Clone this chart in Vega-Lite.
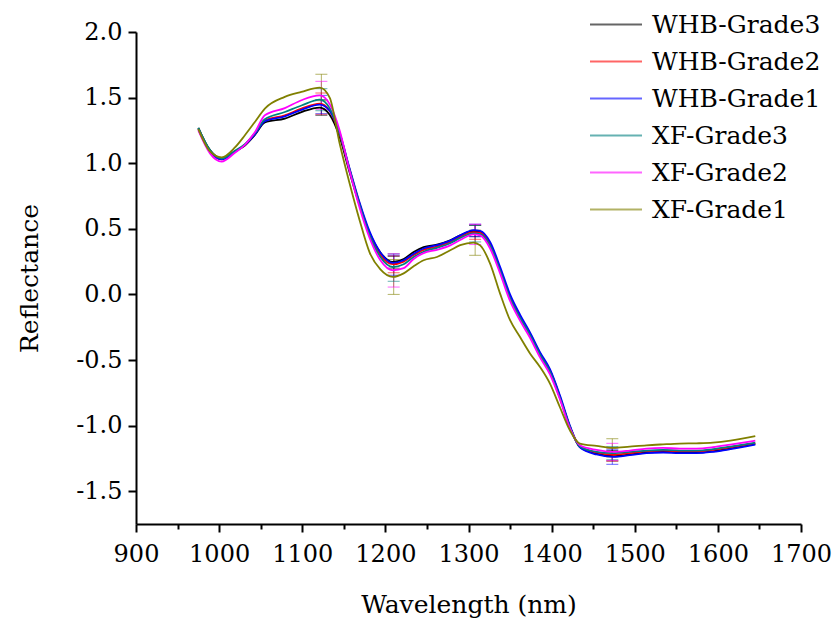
{
"$schema": "https://vega.github.io/schema/vega-lite/v6.json",
"width": 665, "height": 492,
"autosize": {"type": "none"},
"padding": {"left": 136, "top": 32, "right": 31, "bottom": 97},
"background": "white",
"config": {"view": {"stroke": null}, "font": "DejaVu Serif"},
"datasets": {
"spectra": [
{"s":"WHB-Grade3","w":975,"r":1.27},{"s":"WHB-Grade3","w":989,"r":1.10},{"s":"WHB-Grade3","w":1003,"r":1.035},{"s":"WHB-Grade3","w":1019,"r":1.09},{"s":"WHB-Grade3","w":1031,"r":1.135},{"s":"WHB-Grade3","w":1043,"r":1.215},{"s":"WHB-Grade3","w":1055,"r":1.31},{"s":"WHB-Grade3","w":1079,"r":1.34},{"s":"WHB-Grade3","w":1099,"r":1.39},{"s":"WHB-Grade3","w":1121,"r":1.424},{"s":"WHB-Grade3","w":1133,"r":1.37},{"s":"WHB-Grade3","w":1145,"r":1.20},{"s":"WHB-Grade3","w":1157,"r":0.93},{"s":"WHB-Grade3","w":1169,"r":0.68},{"s":"WHB-Grade3","w":1181,"r":0.47},{"s":"WHB-Grade3","w":1194,"r":0.32},{"s":"WHB-Grade3","w":1209,"r":0.247},{"s":"WHB-Grade3","w":1222,"r":0.27},{"s":"WHB-Grade3","w":1234,"r":0.323},{"s":"WHB-Grade3","w":1246,"r":0.361},{"s":"WHB-Grade3","w":1262,"r":0.379},{"s":"WHB-Grade3","w":1278,"r":0.412},{"s":"WHB-Grade3","w":1290,"r":0.45},{"s":"WHB-Grade3","w":1306,"r":0.483},{"s":"WHB-Grade3","w":1314,"r":0.475},{"s":"WHB-Grade3","w":1326,"r":0.38},{"s":"WHB-Grade3","w":1338,"r":0.19},{"s":"WHB-Grade3","w":1350,"r":-0.02},{"s":"WHB-Grade3","w":1362,"r":-0.17},{"s":"WHB-Grade3","w":1374,"r":-0.30},{"s":"WHB-Grade3","w":1386,"r":-0.45},{"s":"WHB-Grade3","w":1398,"r":-0.58},{"s":"WHB-Grade3","w":1410,"r":-0.78},{"s":"WHB-Grade3","w":1422,"r":-1.01},{"s":"WHB-Grade3","w":1434,"r":-1.163},{"s":"WHB-Grade3","w":1454,"r":-1.213},{"s":"WHB-Grade3","w":1474,"r":-1.232},{"s":"WHB-Grade3","w":1494,"r":-1.22},{"s":"WHB-Grade3","w":1514,"r":-1.205},{"s":"WHB-Grade3","w":1534,"r":-1.20},{"s":"WHB-Grade3","w":1554,"r":-1.205},{"s":"WHB-Grade3","w":1574,"r":-1.205},{"s":"WHB-Grade3","w":1594,"r":-1.196},{"s":"WHB-Grade3","w":1615,"r":-1.175},{"s":"WHB-Grade3","w":1645,"r":-1.14},
{"s":"WHB-Grade2","w":975,"r":1.26},{"s":"WHB-Grade2","w":989,"r":1.09},{"s":"WHB-Grade2","w":1003,"r":1.03},{"s":"WHB-Grade2","w":1019,"r":1.09},{"s":"WHB-Grade2","w":1031,"r":1.14},{"s":"WHB-Grade2","w":1043,"r":1.225},{"s":"WHB-Grade2","w":1055,"r":1.325},{"s":"WHB-Grade2","w":1079,"r":1.365},{"s":"WHB-Grade2","w":1099,"r":1.416},{"s":"WHB-Grade2","w":1121,"r":1.454},{"s":"WHB-Grade2","w":1133,"r":1.40},{"s":"WHB-Grade2","w":1145,"r":1.22},{"s":"WHB-Grade2","w":1157,"r":0.95},{"s":"WHB-Grade2","w":1169,"r":0.69},{"s":"WHB-Grade2","w":1181,"r":0.46},{"s":"WHB-Grade2","w":1194,"r":0.30},{"s":"WHB-Grade2","w":1209,"r":0.23},{"s":"WHB-Grade2","w":1222,"r":0.25},{"s":"WHB-Grade2","w":1234,"r":0.30},{"s":"WHB-Grade2","w":1246,"r":0.34},{"s":"WHB-Grade2","w":1262,"r":0.365},{"s":"WHB-Grade2","w":1278,"r":0.40},{"s":"WHB-Grade2","w":1290,"r":0.44},{"s":"WHB-Grade2","w":1306,"r":0.475},{"s":"WHB-Grade2","w":1314,"r":0.47},{"s":"WHB-Grade2","w":1326,"r":0.38},{"s":"WHB-Grade2","w":1338,"r":0.19},{"s":"WHB-Grade2","w":1350,"r":-0.02},{"s":"WHB-Grade2","w":1362,"r":-0.17},{"s":"WHB-Grade2","w":1374,"r":-0.31},{"s":"WHB-Grade2","w":1386,"r":-0.46},{"s":"WHB-Grade2","w":1398,"r":-0.59},{"s":"WHB-Grade2","w":1410,"r":-0.79},{"s":"WHB-Grade2","w":1422,"r":-1.01},{"s":"WHB-Grade2","w":1434,"r":-1.16},{"s":"WHB-Grade2","w":1454,"r":-1.205},{"s":"WHB-Grade2","w":1474,"r":-1.222},{"s":"WHB-Grade2","w":1494,"r":-1.21},{"s":"WHB-Grade2","w":1514,"r":-1.195},{"s":"WHB-Grade2","w":1534,"r":-1.19},{"s":"WHB-Grade2","w":1554,"r":-1.195},{"s":"WHB-Grade2","w":1574,"r":-1.195},{"s":"WHB-Grade2","w":1594,"r":-1.185},{"s":"WHB-Grade2","w":1615,"r":-1.165},{"s":"WHB-Grade2","w":1645,"r":-1.135},
{"s":"WHB-Grade1","w":975,"r":1.26},{"s":"WHB-Grade1","w":989,"r":1.09},{"s":"WHB-Grade1","w":1003,"r":1.03},{"s":"WHB-Grade1","w":1019,"r":1.085},{"s":"WHB-Grade1","w":1031,"r":1.14},{"s":"WHB-Grade1","w":1043,"r":1.22},{"s":"WHB-Grade1","w":1055,"r":1.32},{"s":"WHB-Grade1","w":1079,"r":1.357},{"s":"WHB-Grade1","w":1099,"r":1.407},{"s":"WHB-Grade1","w":1121,"r":1.447},{"s":"WHB-Grade1","w":1133,"r":1.40},{"s":"WHB-Grade1","w":1145,"r":1.23},{"s":"WHB-Grade1","w":1157,"r":0.96},{"s":"WHB-Grade1","w":1169,"r":0.70},{"s":"WHB-Grade1","w":1181,"r":0.48},{"s":"WHB-Grade1","w":1194,"r":0.32},{"s":"WHB-Grade1","w":1209,"r":0.24},{"s":"WHB-Grade1","w":1222,"r":0.26},{"s":"WHB-Grade1","w":1234,"r":0.31},{"s":"WHB-Grade1","w":1246,"r":0.35},{"s":"WHB-Grade1","w":1262,"r":0.375},{"s":"WHB-Grade1","w":1278,"r":0.41},{"s":"WHB-Grade1","w":1290,"r":0.45},{"s":"WHB-Grade1","w":1306,"r":0.49},{"s":"WHB-Grade1","w":1314,"r":0.485},{"s":"WHB-Grade1","w":1326,"r":0.40},{"s":"WHB-Grade1","w":1338,"r":0.21},{"s":"WHB-Grade1","w":1350,"r":0.00},{"s":"WHB-Grade1","w":1362,"r":-0.155},{"s":"WHB-Grade1","w":1374,"r":-0.29},{"s":"WHB-Grade1","w":1386,"r":-0.44},{"s":"WHB-Grade1","w":1398,"r":-0.57},{"s":"WHB-Grade1","w":1410,"r":-0.77},{"s":"WHB-Grade1","w":1422,"r":-1.00},{"s":"WHB-Grade1","w":1434,"r":-1.165},{"s":"WHB-Grade1","w":1454,"r":-1.22},{"s":"WHB-Grade1","w":1474,"r":-1.238},{"s":"WHB-Grade1","w":1494,"r":-1.225},{"s":"WHB-Grade1","w":1514,"r":-1.21},{"s":"WHB-Grade1","w":1534,"r":-1.205},{"s":"WHB-Grade1","w":1554,"r":-1.21},{"s":"WHB-Grade1","w":1574,"r":-1.21},{"s":"WHB-Grade1","w":1594,"r":-1.20},{"s":"WHB-Grade1","w":1615,"r":-1.18},{"s":"WHB-Grade1","w":1645,"r":-1.145},
{"s":"XF-Grade3","w":975,"r":1.27},{"s":"XF-Grade3","w":989,"r":1.10},{"s":"XF-Grade3","w":1003,"r":1.035},{"s":"XF-Grade3","w":1019,"r":1.095},{"s":"XF-Grade3","w":1031,"r":1.145},{"s":"XF-Grade3","w":1043,"r":1.23},{"s":"XF-Grade3","w":1055,"r":1.335},{"s":"XF-Grade3","w":1079,"r":1.39},{"s":"XF-Grade3","w":1099,"r":1.44},{"s":"XF-Grade3","w":1121,"r":1.485},{"s":"XF-Grade3","w":1133,"r":1.42},{"s":"XF-Grade3","w":1145,"r":1.23},{"s":"XF-Grade3","w":1157,"r":0.95},{"s":"XF-Grade3","w":1169,"r":0.68},{"s":"XF-Grade3","w":1181,"r":0.45},{"s":"XF-Grade3","w":1194,"r":0.285},{"s":"XF-Grade3","w":1209,"r":0.209},{"s":"XF-Grade3","w":1222,"r":0.23},{"s":"XF-Grade3","w":1234,"r":0.285},{"s":"XF-Grade3","w":1246,"r":0.325},{"s":"XF-Grade3","w":1262,"r":0.355},{"s":"XF-Grade3","w":1278,"r":0.39},{"s":"XF-Grade3","w":1290,"r":0.43},{"s":"XF-Grade3","w":1306,"r":0.465},{"s":"XF-Grade3","w":1314,"r":0.46},{"s":"XF-Grade3","w":1326,"r":0.37},{"s":"XF-Grade3","w":1338,"r":0.18},{"s":"XF-Grade3","w":1350,"r":-0.03},{"s":"XF-Grade3","w":1362,"r":-0.18},{"s":"XF-Grade3","w":1374,"r":-0.31},{"s":"XF-Grade3","w":1386,"r":-0.46},{"s":"XF-Grade3","w":1398,"r":-0.59},{"s":"XF-Grade3","w":1410,"r":-0.79},{"s":"XF-Grade3","w":1422,"r":-1.01},{"s":"XF-Grade3","w":1434,"r":-1.16},{"s":"XF-Grade3","w":1454,"r":-1.20},{"s":"XF-Grade3","w":1474,"r":-1.21},{"s":"XF-Grade3","w":1494,"r":-1.20},{"s":"XF-Grade3","w":1514,"r":-1.19},{"s":"XF-Grade3","w":1534,"r":-1.185},{"s":"XF-Grade3","w":1554,"r":-1.19},{"s":"XF-Grade3","w":1574,"r":-1.19},{"s":"XF-Grade3","w":1594,"r":-1.18},{"s":"XF-Grade3","w":1615,"r":-1.16},{"s":"XF-Grade3","w":1645,"r":-1.13},
{"s":"XF-Grade2","w":975,"r":1.25},{"s":"XF-Grade2","w":989,"r":1.075},{"s":"XF-Grade2","w":1003,"r":1.012},{"s":"XF-Grade2","w":1019,"r":1.08},{"s":"XF-Grade2","w":1031,"r":1.14},{"s":"XF-Grade2","w":1043,"r":1.235},{"s":"XF-Grade2","w":1055,"r":1.365},{"s":"XF-Grade2","w":1079,"r":1.42},{"s":"XF-Grade2","w":1099,"r":1.48},{"s":"XF-Grade2","w":1121,"r":1.517},{"s":"XF-Grade2","w":1133,"r":1.45},{"s":"XF-Grade2","w":1145,"r":1.25},{"s":"XF-Grade2","w":1157,"r":0.94},{"s":"XF-Grade2","w":1169,"r":0.66},{"s":"XF-Grade2","w":1181,"r":0.43},{"s":"XF-Grade2","w":1194,"r":0.26},{"s":"XF-Grade2","w":1209,"r":0.184},{"s":"XF-Grade2","w":1222,"r":0.20},{"s":"XF-Grade2","w":1234,"r":0.27},{"s":"XF-Grade2","w":1246,"r":0.315},{"s":"XF-Grade2","w":1262,"r":0.34},{"s":"XF-Grade2","w":1278,"r":0.374},{"s":"XF-Grade2","w":1290,"r":0.415},{"s":"XF-Grade2","w":1306,"r":0.458},{"s":"XF-Grade2","w":1314,"r":0.45},{"s":"XF-Grade2","w":1326,"r":0.35},{"s":"XF-Grade2","w":1338,"r":0.16},{"s":"XF-Grade2","w":1350,"r":-0.05},{"s":"XF-Grade2","w":1362,"r":-0.20},{"s":"XF-Grade2","w":1374,"r":-0.33},{"s":"XF-Grade2","w":1386,"r":-0.48},{"s":"XF-Grade2","w":1398,"r":-0.61},{"s":"XF-Grade2","w":1410,"r":-0.80},{"s":"XF-Grade2","w":1422,"r":-1.02},{"s":"XF-Grade2","w":1434,"r":-1.15},{"s":"XF-Grade2","w":1454,"r":-1.185},{"s":"XF-Grade2","w":1474,"r":-1.20},{"s":"XF-Grade2","w":1494,"r":-1.19},{"s":"XF-Grade2","w":1514,"r":-1.175},{"s":"XF-Grade2","w":1534,"r":-1.17},{"s":"XF-Grade2","w":1554,"r":-1.175},{"s":"XF-Grade2","w":1574,"r":-1.175},{"s":"XF-Grade2","w":1594,"r":-1.165},{"s":"XF-Grade2","w":1615,"r":-1.145},{"s":"XF-Grade2","w":1645,"r":-1.115},
{"s":"XF-Grade1","w":975,"r":1.26},{"s":"XF-Grade1","w":989,"r":1.09},{"s":"XF-Grade1","w":1003,"r":1.045},{"s":"XF-Grade1","w":1019,"r":1.12},{"s":"XF-Grade1","w":1031,"r":1.213},{"s":"XF-Grade1","w":1043,"r":1.314},{"s":"XF-Grade1","w":1055,"r":1.416},{"s":"XF-Grade1","w":1079,"r":1.505},{"s":"XF-Grade1","w":1099,"r":1.543},{"s":"XF-Grade1","w":1121,"r":1.576},{"s":"XF-Grade1","w":1133,"r":1.50},{"s":"XF-Grade1","w":1145,"r":1.15},{"s":"XF-Grade1","w":1157,"r":0.845},{"s":"XF-Grade1","w":1169,"r":0.565},{"s":"XF-Grade1","w":1181,"r":0.32},{"s":"XF-Grade1","w":1194,"r":0.19},{"s":"XF-Grade1","w":1209,"r":0.133},{"s":"XF-Grade1","w":1222,"r":0.16},{"s":"XF-Grade1","w":1234,"r":0.214},{"s":"XF-Grade1","w":1246,"r":0.26},{"s":"XF-Grade1","w":1262,"r":0.285},{"s":"XF-Grade1","w":1278,"r":0.336},{"s":"XF-Grade1","w":1290,"r":0.375},{"s":"XF-Grade1","w":1306,"r":0.395},{"s":"XF-Grade1","w":1314,"r":0.374},{"s":"XF-Grade1","w":1326,"r":0.235},{"s":"XF-Grade1","w":1338,"r":0.006},{"s":"XF-Grade1","w":1350,"r":-0.197},{"s":"XF-Grade1","w":1362,"r":-0.325},{"s":"XF-Grade1","w":1374,"r":-0.45},{"s":"XF-Grade1","w":1386,"r":-0.553},{"s":"XF-Grade1","w":1398,"r":-0.68},{"s":"XF-Grade1","w":1410,"r":-0.86},{"s":"XF-Grade1","w":1422,"r":-1.036},{"s":"XF-Grade1","w":1434,"r":-1.137},{"s":"XF-Grade1","w":1454,"r":-1.155},{"s":"XF-Grade1","w":1474,"r":-1.17},{"s":"XF-Grade1","w":1494,"r":-1.16},{"s":"XF-Grade1","w":1514,"r":-1.15},{"s":"XF-Grade1","w":1534,"r":-1.143},{"s":"XF-Grade1","w":1554,"r":-1.137},{"s":"XF-Grade1","w":1574,"r":-1.135},{"s":"XF-Grade1","w":1594,"r":-1.13},{"s":"XF-Grade1","w":1615,"r":-1.115},{"s":"XF-Grade1","w":1645,"r":-1.08}
],
"errs": [
{"s":"WHB-Grade3","w":1123,"lo":1.365,"hi":1.484},{"s":"WHB-Grade2","w":1123,"lo":1.373,"hi":1.535},{"s":"WHB-Grade1","w":1123,"lo":1.377,"hi":1.517},{"s":"XF-Grade3","w":1123,"lo":1.40,"hi":1.568},{"s":"XF-Grade2","w":1123,"lo":1.41,"hi":1.624},{"s":"XF-Grade1","w":1123,"lo":1.476,"hi":1.678},
{"s":"WHB-Grade3","w":1210,"lo":0.20,"hi":0.29},{"s":"WHB-Grade2","w":1210,"lo":0.165,"hi":0.295},{"s":"WHB-Grade1","w":1210,"lo":0.146,"hi":0.30},{"s":"XF-Grade3","w":1210,"lo":0.10,"hi":0.31},{"s":"XF-Grade2","w":1210,"lo":0.056,"hi":0.31},{"s":"XF-Grade1","w":1210,"lo":0.0,"hi":0.266},
{"s":"WHB-Grade3","w":1308,"lo":0.44,"hi":0.525},{"s":"WHB-Grade2","w":1308,"lo":0.42,"hi":0.53},{"s":"WHB-Grade1","w":1308,"lo":0.44,"hi":0.535},{"s":"XF-Grade3","w":1308,"lo":0.40,"hi":0.525},{"s":"XF-Grade2","w":1308,"lo":0.38,"hi":0.535},{"s":"XF-Grade1","w":1308,"lo":0.298,"hi":0.49},
{"s":"WHB-Grade3","w":1473,"lo":-1.27,"hi":-1.19},{"s":"WHB-Grade2","w":1473,"lo":-1.27,"hi":-1.17},{"s":"WHB-Grade1","w":1473,"lo":-1.295,"hi":-1.18},{"s":"XF-Grade3","w":1473,"lo":-1.26,"hi":-1.16},{"s":"XF-Grade2","w":1473,"lo":-1.265,"hi":-1.135},{"s":"XF-Grade1","w":1473,"lo":-1.24,"hi":-1.10}
]
},
"encoding": {
"color": {"field": "s", "type": "nominal",
"scale": {"domain": ["WHB-Grade3","WHB-Grade2","WHB-Grade1","XF-Grade3","XF-Grade2","XF-Grade1"],
"range": ["#000000","#FF0000","#0000FF","#008080","#FF00FF","#808000"]},
"sort": null,
"legend": {"title": null, "orient": "none", "legendX": 453, "legendY": -25, "symbolType": "stroke", "symbolSize": 2704, "symbolStrokeWidth": 2, "clipHeight": 35,
"labelFont": "DejaVu Serif", "labelFontSize": 25, "labelColor": "black", "labelOffset": 9, "padding": 0, "labelLimit": 300}}
},
"layer": [
{
"data": {"name": "errs"},
"mark": {"type": "rule", "strokeWidth": 1, "opacity": 0.6},
"encoding": {
"x": {"field": "w", "type": "quantitative"},
"y": {"field": "lo", "type": "quantitative"},
"y2": {"field": "hi"}
}
},
{
"data": {"name": "errs"},
"mark": {"type": "tick", "orient": "horizontal", "size": 12, "thickness": 1, "opacity": 0.6},
"encoding": {
"x": {"field": "w", "type": "quantitative"},
"y": {"field": "lo", "type": "quantitative"}
}
},
{
"data": {"name": "errs"},
"mark": {"type": "tick", "orient": "horizontal", "size": 12, "thickness": 1, "opacity": 0.6},
"encoding": {
"x": {"field": "w", "type": "quantitative"},
"y": {"field": "hi", "type": "quantitative"}
}
},
{
"data": {"name": "spectra"},
"mark": {"type": "line", "strokeWidth": 1.8, "interpolate": "monotone"},
"encoding": {
"x": {"field": "w", "type": "quantitative",
"scale": {"domain": [900, 1700], "nice": false, "zero": false},
"axis": {"title": "Wavelength (nm)", "values": [900,950,1000,1050,1100,1150,1200,1250,1300,1350,1400,1450,1500,1550,1600,1650,1700],
"labelExpr": "datum.value % 100 === 0 ? format(datum.value, 'd') : ''",
"tickSize": {"condition": {"test": "datum.value % 100 === 0", "value": 8}, "value": 5},
"grid": false, "domainColor": "black", "domainWidth": 2, "tickColor": "black", "tickWidth": 2,
"labelFont": "DejaVu Serif", "labelFontSize": 24, "labelColor": "black", "labelPadding": 10, "labelFlush": false,
"titleFont": "DejaVu Serif", "titleFontSize": 25, "titleFontWeight": "normal", "titleColor": "black", "titlePadding": 26}},
"y": {"field": "r", "type": "quantitative",
"scale": {"domain": [-1.75, 2.0], "nice": false, "zero": false},
"axis": {"title": "Reflectance", "values": [-1.5,-1.25,-1.0,-0.75,-0.5,-0.25,0,0.25,0.5,0.75,1.0,1.25,1.5,1.75,2.0],
"labelExpr": "datum.value % 0.5 === 0 ? replace(format(datum.value, '.1f'), '\u2212', '-') : ''",
"tickSize": {"condition": {"test": "datum.value % 0.5 === 0", "value": 8}, "value": 5},
"grid": false, "domainColor": "black", "domainWidth": 2, "tickColor": "black", "tickWidth": 2,
"labelFont": "DejaVu Serif", "labelFontSize": 24, "labelColor": "black", "labelPadding": 6, "labelFlush": false,
"titleFont": "DejaVu Serif", "titleFontSize": 25, "titleFontWeight": "normal", "titleColor": "black", "titlePadding": 33}}
}
}
]
}
